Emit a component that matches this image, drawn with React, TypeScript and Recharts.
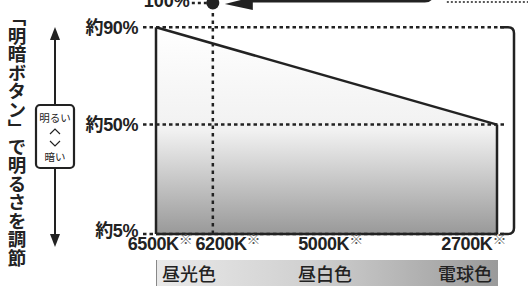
import React from "react"
import {
  Area,
  ComposedChart,
  ReferenceArea,
  ReferenceDot,
  ReferenceLine,
  XAxis,
  YAxis
} from "recharts"

// color temperature steps (position on the dial, label)
const kelvinLabels = ["6500K", "6200K", "5000K", "2700K"]
const kelvinSteps = [0, 1, 3, 6]

// brightness range of the dimmer line
const lineSteps = [0, 6]
const lineBrightness = [90, 50]
const minBrightness = 5
const peakStep = 1
const peakBrightness = 100
const brightnessTicks = [5, 50, 90]

const colorNames = ["昼光色", "昼白色", "電球色"]
const sideTitle = "「明暗ボタン」で明るさを調節"

const data = lineSteps.map((s, i) => ({ step: s, value: lineBrightness[i] }))

const ink = "#222"
const latin = '"Liberation Sans", "Noto Sans CJK JP", sans-serif'
const cjk = '"Noto Sans CJK JP", sans-serif'

function KelvinTick(props: any) {
  const { x, y, payload, index } = props
  const label = kelvinLabels[kelvinSteps.indexOf(payload.value)]
  const last = index === kelvinSteps.length - 1
  const dx = [4, 15, 4, 9][index] ?? 0
  return (
    <text
      x={x + dx}
      y={y + 16}
      textAnchor={last ? "end" : "middle"}
      fontFamily={latin}
      fontWeight={700}
      fontSize={18}
      letterSpacing={-0.4}
      fill={ink}
    >
      {label}
      <tspan fontSize={14} fontWeight={400} fontFamily={cjk} dy={-6} fill="#555">
        ※
      </tspan>
    </text>
  )
}

function BrightnessTick(props: any) {
  const { x, y, payload } = props
  // the lowest label sits a little above its line, as in the print
  const lift = payload.value === minBrightness ? 3 : 0
  return (
    <text
      x={x}
      y={y - lift}
      dy="0.355em"
      textAnchor="end"
      fontFamily={latin}
      fontWeight={700}
      fontSize={18}
      letterSpacing={-0.4}
      fill={ink}
    >
      {`約${payload.value}%`}
    </text>
  )
}

function PeakDot(props: any) {
  const { cx, cy } = props
  return (
    <g>
      <text x={cx - 23} y={cy + 4} textAnchor="end" fontFamily={latin} fontWeight={700} fontSize={18} fill={ink}>
        {peakBrightness}%
      </text>
      <line x1={cx - 21} y1={cy} x2={cx - 6} y2={cy} stroke={ink} strokeWidth={2.5} strokeDasharray="3 3" />
      <circle cx={cx} cy={cy} r={6.5} fill={ink} />
      <polygon points={`${cx + 12},${cy + 1} ${cx + 40},${cy - 6} ${cx + 40},${cy + 7}`} fill={ink} />
      <path
        d={`M${cx + 38},${cy - 2} H${cx + 212} Q${cx + 220},${cy - 2} ${cx + 220},${cy - 12}`}
        fill="none"
        stroke={ink}
        strokeWidth={3}
      />
      <line x1={cx + 234} y1={cy - 1} x2={cx + 320} y2={cy - 1} stroke={ink} strokeWidth={1.5} strokeDasharray="2 2" />
    </g>
  )
}

function RangeBracket(props: any) {
  const { x, y, width, height } = props
  const r = x + width
  return (
    <path
      d={`M${r + 3},${y} H${r + 11} Q${r + 17},${y} ${r + 17},${y + 6} V${y + height - 6} Q${r + 17},${y + height} ${r + 11},${y + height} H${r + 3}`}
      fill="none"
      stroke={ink}
      strokeWidth={2.5}
    />
  )
}

export default function App() {
  const dotted = { stroke: ink, strokeWidth: 2.5, strokeDasharray: "3.5 3" }

  return (
    <div style={{ position: "relative", width: 528, height: 286, background: "#fff", overflow: "hidden" }}>
      <style>{`body{margin:0}`}</style>

      {/* side caption */}
      <div
        style={{
          position: "absolute",
          left: 7,
          top: 8,
          writingMode: "vertical-rl",
          fontFamily: cjk,
          fontSize: 18.5,
          fontWeight: 700,
          lineHeight: "20px",
          color: ink,
          whiteSpace: "nowrap"
        }}
      >
        {sideTitle}
      </div>

      {/* dimmer button */}
      <svg width={90} height={286} style={{ position: "absolute", left: 0, top: 0 }}>
        <line x1={55} y1={38} x2={55} y2={105} stroke={ink} strokeWidth={2} />
        <polygon points="55,27 50,40 60,40" fill={ink} />
        <line x1={55} y1={168} x2={55} y2={236} stroke={ink} strokeWidth={2} />
        <polygon points="55,247 50,234 60,234" fill={ink} />
        <rect x={36} y={105} width={38} height={63} rx={4} fill="#fff" stroke={ink} strokeWidth={2.2} />
        <text x={55} y={122} textAnchor="middle" fontFamily={cjk} fontSize={10.5} fill={ink}>明るい</text>
        <polyline points="50,134 55,129 60,134" fill="none" stroke={ink} strokeWidth={1.2} />
        <polyline points="50,141 55,146 60,141" fill="none" stroke={ink} strokeWidth={1.2} />
        <text x={55} y={161} textAnchor="middle" fontFamily={cjk} fontSize={10.5} fill={ink}>暗い</text>
      </svg>

      <div style={{ position: "absolute", left: 0, top: 0 }}>
        <ComposedChart
          width={528}
          height={286}
          data={data}
          margin={{ top: 3, right: 21, bottom: 32, left: 0 }}
          style={{ overflow: "visible" }}
        >
          <defs>
            <linearGradient id="lightFill" x1="0" y1="0" x2="0" y2="1">
              <stop offset="0%" stopColor="#ffffff" />
              <stop offset="50%" stopColor="#f1f1f1" />
              <stop offset="100%" stopColor="#999999" />
            </linearGradient>
          </defs>

          <XAxis
            dataKey="step"
            type="number"
            domain={[0, 6]}
            ticks={kelvinSteps}
            padding={{ left: 13, right: 10 }}
            axisLine={false}
            tickLine={false}
            tickSize={0}
            tickMargin={0}
            height={20}
            tick={<KelvinTick />}
            interval={0}
          />
          <YAxis
            type="number"
            domain={[minBrightness, peakBrightness]}
            ticks={brightnessTicks}
            width={143}
            axisLine={false}
            tickLine={false}
            tickSize={0}
            tickMargin={5}
            tick={<BrightnessTick />}
          />

          <Area
            type="linear"
            dataKey="value"
            baseValue={minBrightness}
            stroke={ink}
            strokeWidth={2.5}
            fill="url(#lightFill)"
            fillOpacity={1}
            dot={false}
            activeDot={false}
            isAnimationActive={false}
          />

          {brightnessTicks.map((t) => (
            <ReferenceLine key={t} y={t} {...dotted} />
          ))}
          <ReferenceLine x={peakStep} {...dotted} strokeDasharray="3.5 4" />

          {/* outline of the brightness band */}
          <ReferenceLine
            segment={[{ x: lineSteps[0], y: minBrightness }, { x: lineSteps[0], y: lineBrightness[0] }]}
            stroke={ink}
            strokeWidth={2.5}
          />
          <ReferenceLine
            segment={[{ x: lineSteps[1], y: minBrightness }, { x: lineSteps[1], y: lineBrightness[1] }]}
            stroke={ink}
            strokeWidth={2.5}
          />
          <ReferenceLine
            segment={[{ x: lineSteps[0], y: minBrightness }, { x: lineSteps[1], y: minBrightness }]}
            stroke={ink}
            strokeWidth={2.5}
          />

          <ReferenceArea
            y1={minBrightness}
            y2={lineBrightness[0]}
            ifOverflow="visible"
            shape={<RangeBracket />}
          />
          <ReferenceDot
            x={peakStep}
            y={peakBrightness}
            ifOverflow="visible"
            shape={<PeakDot />}
          />
        </ComposedChart>
      </div>

      {/* light color band */}
      <div
        style={{
          position: "absolute",
          left: 156,
          top: 260,
          width: 341,
          height: 26,
          background: "linear-gradient(to right, #e9e9e9 0%, #d0d0d0 45%, #9a9a9a 100%)",
          borderLeft: "1px solid #888",
          fontFamily: cjk,
          fontSize: 18,
          fontWeight: 500,
          color: ink,
          lineHeight: "26px"
        }}
      >
        <span style={{ position: "absolute", left: 5 }}>{colorNames[0]}</span>
        <span style={{ position: "absolute", left: 141 }}>{colorNames[1]}</span>
        <span style={{ position: "absolute", right: 6 }}>{colorNames[2]}</span>
      </div>
    </div>
  )
}
